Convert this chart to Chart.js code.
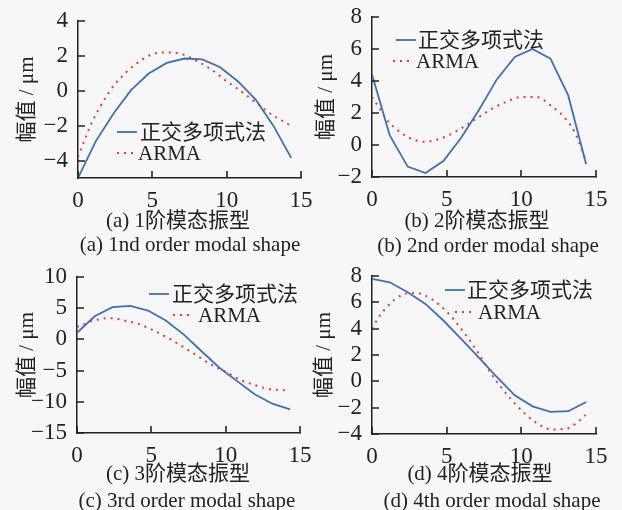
<!DOCTYPE html>
<html>
<head>
<meta charset="utf-8">
<script src="https://cdn.jsdelivr.net/npm/chart.js@4.4.1/dist/chart.umd.min.js"></script>
<style>
  body { margin: 0; background: #f7f7f7; }
  #page { position: relative; width: 622px; height: 510px; overflow: hidden; }
  #page canvas { position: absolute; left: 0; top: 0; }
  .cap {
    position: absolute; width: 300px; text-align: center; white-space: nowrap;
    font: 21px "Liberation Serif", "Noto Sans CJK SC", serif; color: #222; line-height: 24px;
  }
</style>
</head>
<body>
<div id="page">
  <canvas id="mode1" width="622" height="510"></canvas>
  <canvas id="mode2" width="622" height="510"></canvas>
  <canvas id="mode3" width="622" height="510"></canvas>
  <canvas id="mode4" width="622" height="510"></canvas>
  <div class="cap" style="left:28px;top:208px">(a) 1阶模态振型</div>
  <div class="cap" style="left:40px;top:232px">(a) 1nd order modal shape</div>
  <div class="cap" style="left:327px;top:208px">(b) 2阶模态振型</div>
  <div class="cap" style="left:338px;top:233px">(b) 2nd order modal shape</div>
  <div class="cap" style="left:28px;top:461px">(c) 3阶模态振型</div>
  <div class="cap" style="left:37px;top:488px">(c) 3rd order modal shape</div>
  <div class="cap" style="left:330px;top:461px">(d) 4阶模态振型</div>
  <div class="cap" style="left:342px;top:488px">(d) 4th order modal shape</div>
</div>
<script>
const FONT = '"Liberation Serif", "Noto Sans CJK SC", serif'
const INK = '#222'
const BLUE = '#3f6fb5'
const RED = '#e8383d'

const seriesNames = ['正交多项式法', 'ARMA']
const yTitle = '幅值 / μm'

// measuring positions along the shaft
const polyX = [0, 1.19, 2.39, 3.58, 4.78, 5.97, 7.17, 8.36, 9.56, 10.75, 11.95, 13.14, 14.34]
const armaX = [0, 0.5, 1, 1.5, 2, 2.5, 3, 3.5, 4, 5, 6, 7, 8, 9, 10, 11, 12, 13, 13.6, 14.3]

// mode 1
const poly1 = [-5, -2.9, -1.3, 0.05, 1.0, 1.6, 1.85, 1.8, 1.35, 0.55, -0.5, -2.0, -3.85]
const arma1 = [-3.8, -2.7, -1.7, -0.9, -0.2, 0.4, 0.85, 1.27, 1.6, 2.1, 2.2, 2.1, 1.7, 1.2, 0.55, -0.05, -0.7, -1.35, -1.65, -2.0]
// mode 2
const poly2 = [4.4, 0.6, -1.35, -1.75, -1.0, 0.45, 2.2, 4.1, 5.5, 6.0, 5.4, 3.1, -1.2]
const arma2 = [3.0, 2.3, 1.55, 1.1, 0.72, 0.45, 0.28, 0.2, 0.25, 0.55, 1.05, 1.65, 2.25, 2.7, 3.0, 3.0, 2.45, 1.6, 0.75, -0.9]
// mode 3
const poly3 = [1.06, 3.7, 5.16, 5.37, 4.63, 3.03, 0.8, -1.86, -4.5, -6.65, -8.8, -10.3, -11.2]
const arma3 = [2.0, 2.45, 2.95, 3.2, 3.4, 3.4, 3.15, 2.85, 2.6, 1.6, 0.4, -1.0, -2.5, -4.0, -5.2, -6.5, -7.35, -8.0, -8.1, -8.15]
// mode 4
const poly4 = [7.78, 7.52, 6.77, 5.88, 4.62, 3.23, 1.79, 0.33, -1.06, -1.9, -2.32, -2.27, -1.57]
const arma4 = [4.0, 4.95, 5.65, 6.2, 6.55, 6.7, 6.7, 6.55, 6.25, 5.3, 3.95, 2.35, 0.55, -0.95, -2.2, -3.15, -3.65, -3.6, -3.25, -2.55]

const xTicks = [0, 5, 10, 15]
const yTicks1 = [-4, -2, 0, 2, 4]
const yTicks2 = [-2, 0, 2, 4, 6, 8]
const yTicks3 = [-15, -10, -5, 0, 5, 10]
const yTicks4 = [-4, -2, 0, 2, 4, 6, 8]

const toPoints = (xs, ys) => xs.map((x, i) => ({ x, y: ys[i] }))
const minusSign = (v) => String(v).replace('-', '\u2212')

// short tick marks pointing into the plot
const inwardTicks = {
  id: 'inwardTicks',
  afterDraw(chart) {
    const { ctx, chartArea, scales } = chart
    ctx.save()
    ctx.setLineDash([])
    ctx.strokeStyle = INK
    ctx.lineWidth = 1.6
    ctx.beginPath()
    scales.x.ticks.forEach((t) => {
      const px = Math.round(scales.x.getPixelForValue(t.value))
      ctx.moveTo(px, chartArea.bottom)
      ctx.lineTo(px, chartArea.bottom - 7)
    })
    scales.y.ticks.forEach((t) => {
      const py = Math.round(scales.y.getPixelForValue(t.value))
      ctx.moveTo(chartArea.left, py)
      ctx.lineTo(chartArea.left + 7, py)
    })
    ctx.stroke()
    ctx.restore()
  },
}

// legend drawn inside the plot, one row per dataset
const insideLegend = {
  id: 'insideLegend',
  afterDatasetsDraw(chart, args, opts) {
    const ctx = chart.ctx
    ctx.save()
    ctx.font = '21px ' + FONT
    ctx.textBaseline = 'middle'
    chart.data.datasets.forEach((ds, i) => {
      const [x, y, tx] = opts.rows[i]
      ctx.strokeStyle = ds.borderColor
      ctx.lineWidth = ds.borderWidth
      ctx.setLineDash(ds.borderDash || [])
      ctx.beginPath()
      ctx.moveTo(x, y)
      ctx.lineTo(x + 20, y)
      ctx.stroke()
      ctx.setLineDash([])
      ctx.fillStyle = INK
      ctx.fillText(ds.label, tx, y + 1)
    })
    ctx.restore()
  },
}

const panels = [
  { id: 'mode1', poly: poly1, arma: arma1, yMin: -5, yMax: 4, yTicks: yTicks1,
    axisLeft: 0, area: { left: 78, top: 21, right: 301, bottom: 178 }, titlePad: 15,
    legend: [[117, 132, 140], [117, 153, 138]] },
  { id: 'mode2', poly: poly2, arma: arma2, yMin: -2, yMax: 8, yTicks: yTicks2,
    axisLeft: 311, area: { left: 372, top: 17, right: 596, bottom: 177 }, titlePad: 3,
    legend: [[396, 40, 418], [393, 61, 416]] },
  { id: 'mode3', poly: poly3, arma: arma3, yMin: -15, yMax: 10, yTicks: yTicks3,
    axisLeft: 0, area: { left: 77, top: 277, right: 300, bottom: 433 }, titlePad: 15,
    legend: [[149, 294, 172], [173, 315, 198]] },
  { id: 'mode4', poly: poly4, arma: arma4, yMin: -4, yMax: 8, yTicks: yTicks4,
    axisLeft: 311, area: { left: 372, top: 276, right: 596, bottom: 434 }, titlePad: 1,
    legend: [[445, 290, 467], [455, 312, 478]] },
]

const axisStyle = {
  border: { display: true, color: INK, width: 1.5 },
  grid: { drawOnChartArea: false, drawTicks: false },
}

panels.forEach((p) => {
  new Chart(document.getElementById(p.id), {
    type: 'line',
    data: {
      datasets: [
        {
          label: seriesNames[0],
          data: toPoints(polyX, p.poly),
          borderColor: BLUE,
          borderWidth: 1.8,
          pointRadius: 0,
          tension: 0,
        },
        {
          label: seriesNames[1],
          data: toPoints(armaX, p.arma),
          borderColor: RED,
          borderWidth: 2,
          borderDash: [2, 5],
          pointRadius: 0,
          cubicInterpolationMode: 'monotone',
        },
      ],
    },
    options: {
      responsive: false,
      animation: false,
      events: [],
      layout: {
        padding: {
          left: p.axisLeft,
          top: p.area.top,
          right: 622 - p.area.right,
          bottom: 510 - p.area.bottom - 30,
        },
      },
      plugins: {
        legend: { display: false },
        tooltip: { enabled: false },
        insideLegend: { rows: p.legend },
      },
      scales: {
        x: {
          type: 'linear',
          min: 0,
          max: 15,
          ...axisStyle,
          afterBuildTicks: (axis) => { axis.ticks = xTicks.map((v) => ({ value: v })) },
          afterFit: (axis) => {
            axis.height = 30
            axis.paddingLeft = 0
            axis.paddingRight = 0
          },
          ticks: { color: INK, padding: 9, autoSkip: false, maxRotation: 0, font: { family: FONT, size: 23 } },
        },
        y: {
          type: 'linear',
          min: p.yMin,
          max: p.yMax,
          ...axisStyle,
          afterBuildTicks: (axis) => { axis.ticks = p.yTicks.map((v) => ({ value: v })) },
          afterFit: (axis) => {
            axis.width = p.area.left - p.axisLeft
            axis.paddingTop = 0
            axis.paddingBottom = 0
          },
          ticks: { color: INK, padding: 10, autoSkip: false, callback: minusSign, font: { family: FONT, size: 23 } },
          title: {
            display: true,
            text: yTitle,
            color: INK,
            padding: { top: p.titlePad, bottom: 0 },
            font: { family: FONT, size: 21 },
          },
        },
      },
    },
    plugins: [insideLegend, inwardTicks],
  })
})
</script>
</body>
</html>
